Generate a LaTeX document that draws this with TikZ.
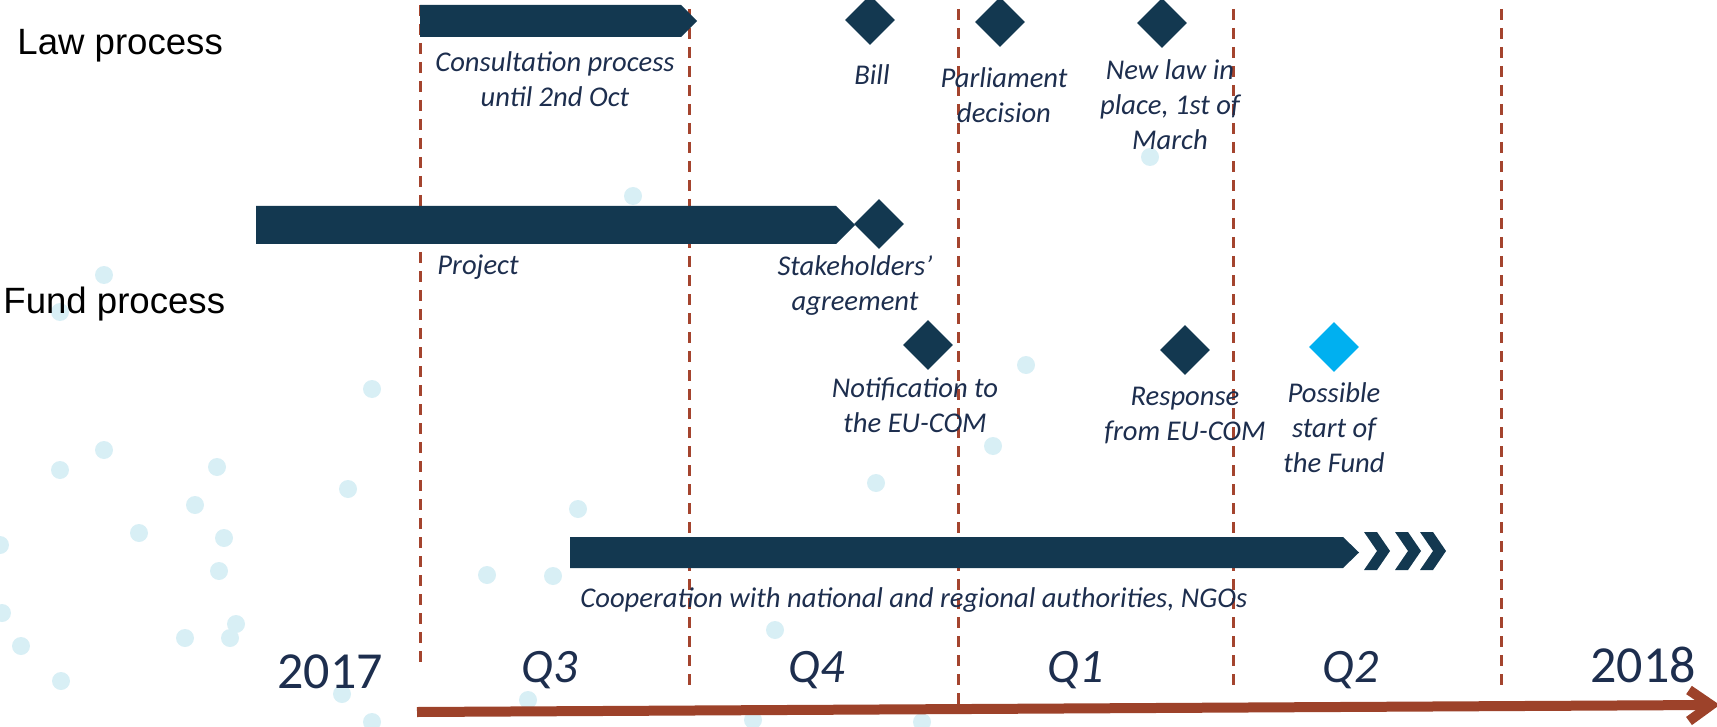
\documentclass[tikz,border=0pt]{standalone}
\usepackage{fontspec}
\setmainfont{Carlito}
\newfontfamily\arialf{Liberation Sans}
\usetikzlibrary{shapes.geometric}
\definecolor{navy}{HTML}{133850}
\definecolor{txt}{HTML}{1D2E4E}
\definecolor{dashc}{HTML}{A4442E}
\definecolor{axisc}{HTML}{9D422A}
\definecolor{cyanc}{HTML}{00B0F0}
\definecolor{dotc}{HTML}{D8EFF5}
\begin{document}
\begin{tikzpicture}[x=0.5pt,y=-0.5pt,
  lbl/.style={font=\itshape\fontsize{14.3}{17.5}\selectfont, text=txt, inner sep=0pt, anchor=base, align=center},
  qlbl/.style={font=\itshape\fontsize{24}{28}\selectfont, text=txt, inner sep=0pt, anchor=base},
  yearlbl/.style={font=\fontsize{26}{30}\selectfont, text=txt, inner sep=0pt, anchor=base},
  proclbl/.style={font=\arialf\fontsize{18.3}{22}\selectfont, text=black, inner sep=0pt, anchor=base west},
  milestone/.style={diamond, fill=navy, inner sep=0pt, minimum width=25pt, minimum height=25pt},
  bar/.style={fill=navy},
  grid/.style={draw=dashc, line width=1.5pt, dash pattern=on 5.5pt off 4pt},
  bgdot/.style={fill=dotc}
]
\useasboundingbox (0,0) rectangle (1717,727);
% background dots
\foreach \p in {(633,196),(1150,157),(104,275),(60,312),(372,389),(104,450),(60,470),(217,467),(348,489),(195,505),(139,533),(224,538),(219,571),(487,575),(553,576),(578,509),(876,483),(993,446),(1026,365),(775,630),(185,638),(230,638),(236,624),(21,646),(2,613),(0,545),(61,681),(342,694),(528,700),(372,722),(753,720),(922,722)}
  \fill[bgdot] \p circle (9);
% quarter grid lines
\draw[grid] (420,5) -- (420,663);
\draw[grid] (689,9) -- (689,688);
\draw[grid] (958,9) -- (958,712);
\draw[grid] (1233,9) -- (1233,688);
\draw[grid] (1501,9) -- (1501,688);
% axis
\draw[axisc, line width=5pt] (417,712) -- (1708,705);
\draw[axisc, line width=5pt, line join=miter] (1689,690) -- (1711,705) -- (1689,721);
% bars
\fill[bar] (420,5) -- (681,5) -- (697,21) -- (681,37) -- (420,37) -- cycle;
\fill[bar] (256,206) -- (836,206) -- (855,225) -- (836,244) -- (256,244) -- cycle;
\fill[bar] (570,537) -- (1343,537) -- (1359,552.5) -- (1343,568) -- (570,568) -- cycle;
\fill[bar] (1364,532) -- (1377,532) -- (1390,551) -- (1377,570) -- (1364,570) -- (1377,551) -- cycle;
\fill[bar] (1395,532) -- (1408,532) -- (1421,551) -- (1408,570) -- (1395,570) -- (1408,551) -- cycle;
\fill[bar] (1420,532) -- (1433,532) -- (1446,551) -- (1433,570) -- (1420,570) -- (1433,551) -- cycle;
% milestones
\node[milestone] (bill) at (870,20) {};
\node[milestone] (parl) at (1000,22) {};
\node[milestone] (newlaw) at (1162,23) {};
\node[milestone] (stake) at (879,224) {};
\node[milestone] (notif) at (928,345) {};
\node[milestone] (resp) at (1185,350) {};
\node[milestone, fill=cyanc] (poss) at (1334,347) {};
% labels (anchor = baseline of last line)
\node[proclbl] (law) at (17,55) {Law process};
\node[proclbl] (fund) at (3,313) {Fund process};
\node[lbl] (consT) at (555,107) {Consultation process\\until 2nd Oct};
\node[lbl] (billT) at (872,85) {Bill};
\node[lbl] (parlT) at (1004,123) {Parliament\\decision};
\node[lbl] (newlawT) at (1170,150) {New law in\\place, 1st of\\March};
\node[lbl, anchor=base west] (projT) at (437,274) {Project};
\node[lbl] (stakeT) at (855,310) {Stakeholders’\\agreement};
\node[lbl] (notifT) at (915,432) {Notification to\\the EU-COM};
\node[lbl] (respT) at (1185,440) {Response\\from EU-COM};
\node[lbl] (possT) at (1334,472) {Possible\\start of\\the Fund};
\node[lbl, anchor=base west] (coopT) at (580,607) {Cooperation with national and regional authorities, NGOs};
\node[qlbl] (q3) at (550,682) {Q3};
\node[qlbl] (q4) at (817,682) {Q4};
\node[qlbl] (q1) at (1076,682) {Q1};
\node[qlbl] (q2) at (1351,682) {Q2};
\node[yearlbl] (y17) at (330,688) {2017};
\node[yearlbl] (y18) at (1643,682) {2018};
\end{tikzpicture}
\end{document}
